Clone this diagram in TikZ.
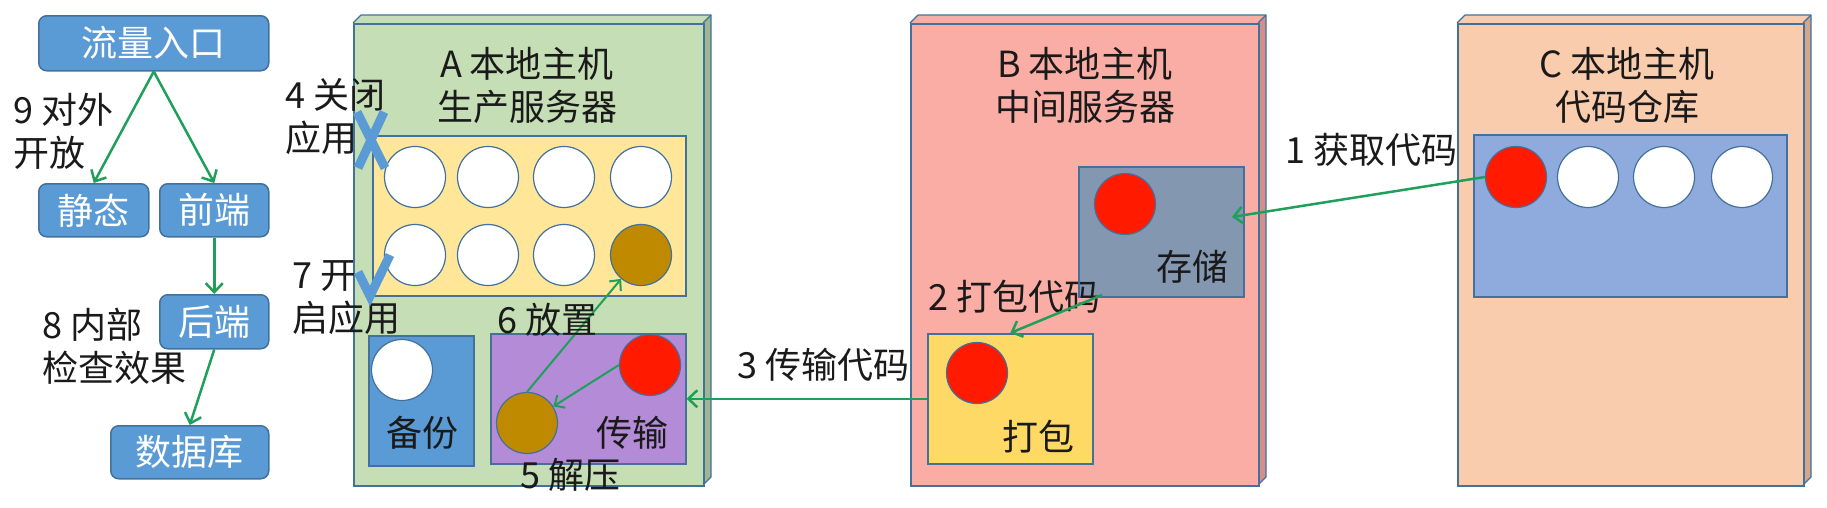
\documentclass[tikz,border=0pt]{standalone}
\usepackage{fontspec}
\setmainfont{Noto Sans CJK SC}
\usetikzlibrary{arrows.meta,calc}
\definecolor{nodeblue}{HTML}{5B9BD5}
\definecolor{edgeblue}{HTML}{41719C}
\definecolor{arrgreen}{HTML}{1FA05A}
\definecolor{hostA}{HTML}{C5DEB5}
\definecolor{hostAside}{HTML}{9FB690}
\definecolor{hostB}{HTML}{F9ADA5}
\definecolor{hostBside}{HTML}{D48F89}
\definecolor{hostC}{HTML}{F9CCAE}
\definecolor{hostCside}{HTML}{D2A88C}
\definecolor{appyellow}{HTML}{FFE699}
\definecolor{transpurple}{HTML}{B48BD6}
\definecolor{storgrey}{HTML}{8497B0}
\definecolor{packyellow}{HTML}{FFD966}
\definecolor{repoblue}{HTML}{8FAADC}
\definecolor{ballbrown}{HTML}{BF8A00}
\definecolor{ballred}{HTML}{FF1A00}
\definecolor{txt}{HTML}{1A1A1A}
\begin{document}
\begin{tikzpicture}[x=1pt,y=-1pt,
  every node/.style={font=\fontsize{36}{43}\selectfont},
  flow/.style={rectangle, rounded corners=8pt, fill=nodeblue, draw=edgeblue, line width=1.5pt, text=white, inner sep=0, anchor=north west},
  host/.style={rectangle, draw=edgeblue, line width=1.5pt, inner sep=0, anchor=north west, minimum width=#1, minimum height=462pt},
  inbox/.style={rectangle, draw=edgeblue, line width=1.5pt, inner sep=0, anchor=north west},
  ball/.style={circle, draw=edgeblue, line width=1.2pt, minimum size=61pt, inner sep=0, fill=#1},
  lbl/.style={inner sep=0, align=left, text=txt, anchor=west},
  ttl/.style={inner sep=0, align=center, text=txt},
  arr/.style={draw=arrgreen, line width=2.5pt, -{Straight Barb[length=9pt,width=17pt]}},
  thinarr/.style={draw=arrgreen, line width=2pt, -{Straight Barb[length=8pt,width=15pt]}},
  statemark/.style={draw=nodeblue, line width=9pt}
]
\useasboundingbox (0,0) rectangle (1827,507);

% ---------- left flow ----------
\node[flow, minimum width=230pt, minimum height=55pt] (entry) at (38,15) {流量入口};
\node[flow, minimum width=110pt, minimum height=53pt] (static) at (38,183) {静态};
\node[flow, minimum width=109pt, minimum height=53pt] (front) at (159,183) {前端};
\node[flow, minimum width=109pt, minimum height=54pt] (back) at (159,294) {后端};
\node[flow, minimum width=158pt, minimum height=53pt] (db) at (110,425) {数据库};
\draw[arr] (entry.south) -- (static.north);
\draw[arr] (entry.south) -- (front.north);
\draw[arr] (front.south) -- (back.north);
\draw[arr] (back.south) -- (db.north);
\node[lbl] (l9) at (13,131) {9 对外\\开放};
\node[lbl] (l8) at (42,346) {8 内部\\检查效果};

% ---------- host boxes (3D) ----------
\foreach \xa/\xb/\fc/\sc in {353/703/hostA/hostAside, 910/1258/hostB/hostBside, 1457/1803/hostC/hostCside}{
  \fill[\fc] (\xa,23) -- (\xa+8,15) -- (\xb+8,15) -- (\xb,23) -- cycle;
  \fill[\sc] (\xb,23) -- (\xb+8,15) -- (\xb+8,477) -- (\xb,485) -- cycle;
  \draw[edgeblue, line width=1.2pt, line join=round] (\xa,23) -- (\xa+8,15) -- (\xb+8,15) -- (\xb+8,477) -- (\xb,485);
  \draw[edgeblue, line width=1.2pt] (\xb,23) -- (\xb+8,15);
}
\node[host=350pt, fill=hostA] (hA) at (353,23) {};
\node[host=348pt, fill=hostB] (hB) at (910,23) {};
\node[host=346pt, fill=hostC] (hC) at (1457,23) {};

\node[ttl] (tA) at (527,85) {A 本地主机\\生产服务器};
\node[ttl] (tB) at (1085,85) {B 本地主机\\中间服务器};
\node[ttl] (tC) at (1627,85) {C 本地主机\\代码仓库};

% ---------- host A ----------
\node[inbox, fill=appyellow, minimum width=313pt, minimum height=160pt] (apps) at (372,135) {};
\node[ball=white] (a1) at (415,177) {};
\node[ball=white] (a2) at (488,177) {};
\node[ball=white] (a3) at (564,177) {};
\node[ball=white] (a4) at (641,177) {};
\node[ball=white] (a5) at (415,255) {};
\node[ball=white] (a6) at (488,255) {};
\node[ball=white] (a7) at (564,255) {};
\node[ball=ballbrown] (a8) at (641,255) {};

\node[inbox, fill=nodeblue, minimum width=105pt, minimum height=130pt] (backup) at (368,335) {};
\node[ball=white] (bk) at (402,370) {};
\node[ttl] (bkt) at (422,433) {备份};

\node[inbox, fill=transpurple, minimum width=195pt, minimum height=130pt] (trans) at (490,333) {};
\node[ball=ballred] (tr) at (650,365) {};
\node[ball=ballbrown] (tb) at (527,423) {};
\node[ttl] (trt) at (632,433) {传输};

\draw[thinarr] (tr.west) -- (tb);
\draw[thinarr] (tb.north) -- (a8);

\node[lbl] (l6) at (497,320) {6 放置};
\node[lbl] (l5) at (520,475) {5 解压};
\node[lbl] (l4) at (285,117) {4 关闭\\应用};
\node[lbl] (l7) at (292,298) {7 开\\启应用};

% close / open marks
\draw[statemark] (357,112) -- (385,168);
\draw[statemark] (384,112) -- (358,168);
\draw[statemark, line join=miter] (358,272) -- (370,296) -- (390,255);

% ---------- host B ----------
\node[inbox, fill=storgrey, minimum width=165pt, minimum height=130pt] (stor) at (1078,166) {};
\node[ball=ballred] (sr) at (1125,204) {};
\node[ttl] (st) at (1192,267) {存储};

\node[inbox, fill=packyellow, minimum width=165pt, minimum height=130pt] (pack) at (927,333) {};
\node[ball=ballred] (pr) at (977,373) {};
\node[ttl] (pt) at (1038,437) {打包};

\node[lbl] (l2) at (928,297) {2 打包代码};
\node[lbl] (l3) at (737,365) {3 传输代码};
\node[lbl] (l1) at (1285,150) {1 获取代码};

% ---------- host C ----------
\node[inbox, fill=repoblue, minimum width=313pt, minimum height=162pt] (repo) at (1473,134) {};
\node[ball=ballred] (c1) at (1516,177) {};
\node[ball=white] (c2) at (1588,177) {};
\node[ball=white] (c3) at (1664,177) {};
\node[ball=white] (c4) at (1742,177) {};

% ---------- transfer arrows ----------
\coordinate (storin) at (1232,217);
\coordinate (storout) at (1102,295);
\draw[arr] (c1.west) -- (storin);
\draw[arr] (storout) -- (pack.north);
\draw[arr] (pack.west) -- (trans.east);
\end{tikzpicture}
\end{document}
